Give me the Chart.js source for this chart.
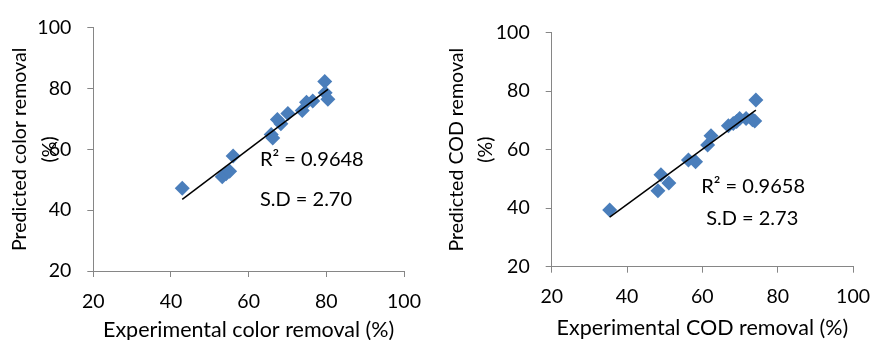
<!DOCTYPE html>
<html>
<head>
<meta charset="utf-8">
<script src="https://cdn.jsdelivr.net/npm/chart.js@4"></script>
<style>
  body { margin: 0; background: #fff; }
  .box { position: absolute; top: 0; width: 441px; height: 340px; }
</style>
</head>
<body>
<div class="box" style="left:0"><canvas id="colorChart" width="441" height="340"></canvas></div>
<div class="box" style="left:441px"><canvas id="codChart" width="441" height="340"></canvas></div>
<script>
// color removal (left panel)
const colorExp  = [42.9, 53.2, 54.2, 55.1, 56.0, 65.8, 66.2, 67.4, 68.3, 70.1, 73.8, 74.9, 76.5, 79.6, 79.7, 80.4];
const colorPred = [47.2, 51.0, 52.0, 52.8, 57.8, 64.9, 63.7, 69.8, 68.4, 71.8, 72.8, 75.5, 75.9, 82.3, 78.6, 76.5];
const colorNotes = ["R\u00B2 = 0.9648", "S.D = 2.70"];
const colorNoteX = [62.9, 62.9];
const colorNoteY = [56.5, 43.4];

// COD removal (right panel)
const codExp  = [35.4, 48.2, 49.0, 51.1, 56.3, 58.2, 61.4, 62.3, 66.9, 68.2, 69.1, 69.9, 71.6, 73.3, 73.9, 74.2];
const codPred = [39.4, 46.0, 51.4, 48.6, 56.5, 55.9, 61.6, 64.8, 68.2, 69.0, 69.6, 70.7, 70.7, 70.2, 69.8, 77.0];
const codNotes = ["R\u00B2 = 0.9658", "S.D = 2.73"];
const codNoteX = [59.7, 61.0];
const codNoteY = [47.4, 36.3];

const axisTicks = [20, 40, 60, 80, 100];
const FONT = "Lato";

function fitLine(xs, ys) {
    const n = xs.length;
    const mx = xs.reduce((a, b) => a + b, 0) / n;
    const my = ys.reduce((a, b) => a + b, 0) / n;
    let sxy = 0, sxx = 0;
    for (let i = 0; i < n; i++) {
        sxy += (xs[i] - mx) * (ys[i] - my);
        sxx += (xs[i] - mx) * (xs[i] - mx);
    }
    const b = sxy / sxx;
    const a = my - b * mx;
    const x0 = Math.min(...xs), x1 = Math.max(...xs);
    return [{ x: x0, y: a + b * x0 }, { x: x1, y: a + b * x1 }];
}

const notesPlugin = {
    id: "notes",
    afterDatasetsDraw(chart, args, opts) {
        const ctx = chart.ctx;
        ctx.save();
        ctx.font = "20px " + FONT;
        ctx.fillStyle = "#000";
        ctx.textAlign = "left";
        ctx.textBaseline = "middle";
        opts.text.forEach((t, i) => {
            ctx.fillText(t,
                chart.scales.x.getPixelForValue(opts.xs[i]),
                chart.scales.y.getPixelForValue(opts.ys[i]));
        });
        ctx.restore();
    },
};

function makeChart(id, xs, ys, cfg) {
    const pts = xs.map((x, i) => ({ x: x, y: ys[i] }));
    const gridCfg = {
        drawOnChartArea: false,
        drawTicks: true,
        tickLength: 6,
        color: "#868686",
    };
    return new Chart(document.getElementById(id), {
        type: "scatter",
        data: {
            datasets: [
                {
                    type: "line",
                    data: fitLine(xs, ys),
                    borderColor: "#000",
                    borderWidth: 1.5,
                    pointRadius: 0,
                    order: 0,
                },
                {
                    data: pts,
                    pointStyle: "rectRot",
                    pointRadius: 7.5,
                    pointHoverRadius: 7.5,
                    backgroundColor: "#4a7ebb",
                    borderColor: "#4a7ebb",
                    borderWidth: 0,
                    order: 1,
                },
            ],
        },
        options: {
            responsive: false,
            animation: false,
            layout: { padding: cfg.padding },
            plugins: {
                legend: { display: false },
                tooltip: { enabled: false },
                notes: cfg.notes,
            },
            scales: {
                x: {
                    type: "linear",
                    min: 20,
                    max: 100,
                    afterBuildTicks: (s) => { s.ticks = axisTicks.map((v) => ({ value: v })); },
                    afterFit: (s) => { s.height = cfg.xHeight; },
                    grid: gridCfg,
                    border: { color: "#868686", width: 1 },
                    ticks: { color: "#000", padding: cfg.xTickPad, font: { family: FONT, size: 19.5 } },
                    title: {
                        display: true,
                        text: cfg.xTitle,
                        color: "#000",
                        padding: { top: 0, bottom: cfg.xTitlePad },
                        font: { family: FONT, size: 21.5, lineHeight: 0.9 },
                    },
                },
                y: {
                    type: "linear",
                    min: 20,
                    max: 100,
                    afterBuildTicks: (s) => { s.ticks = axisTicks.map((v) => ({ value: v })); },
                    afterFit: (s) => { s.width = cfg.yWidth; },
                    grid: gridCfg,
                    border: { color: "#868686", width: 1 },
                    ticks: { color: "#000", padding: 16, font: { family: FONT, size: 19.5 } },
                    title: {
                        display: true,
                        text: cfg.yTitle,
                        color: "#000",
                        padding: { top: cfg.yTitlePad, bottom: 0 },
                        font: { family: FONT, size: 19.6, lineHeight: 1.5 },
                    },
                },
            },
        },
        plugins: [notesPlugin],
    });
}

makeChart("colorChart", colorExp, colorPred, {
    padding: { left: 0, top: 21, right: 37, bottom: 0 },
    xHeight: 69,
    yWidth: 93.3,
    xTickPad: 13,
    xTitlePad: 0,
    yTitlePad: 5.3,
    xTitle: "Experimental color removal (%)",
    yTitle: ["Predicted color removal", "(%)"],
    notes: { text: colorNotes, xs: colorNoteX, ys: colorNoteY },
});

makeChart("codChart", codExp, codPred, {
    padding: { left: 0, top: 32.7, right: 18, bottom: 0 },
    xHeight: 73.3,
    yWidth: 110.7,
    xTickPad: 12,
    xTitlePad: 2,
    yTitlePad: 1,
    xTitle: "Experimental COD removal (%)",
    yTitle: ["Predicted COD removal", "(%)"],
    notes: { text: codNotes, xs: codNoteX, ys: codNoteY },
});
</script>
</body>
</html>
